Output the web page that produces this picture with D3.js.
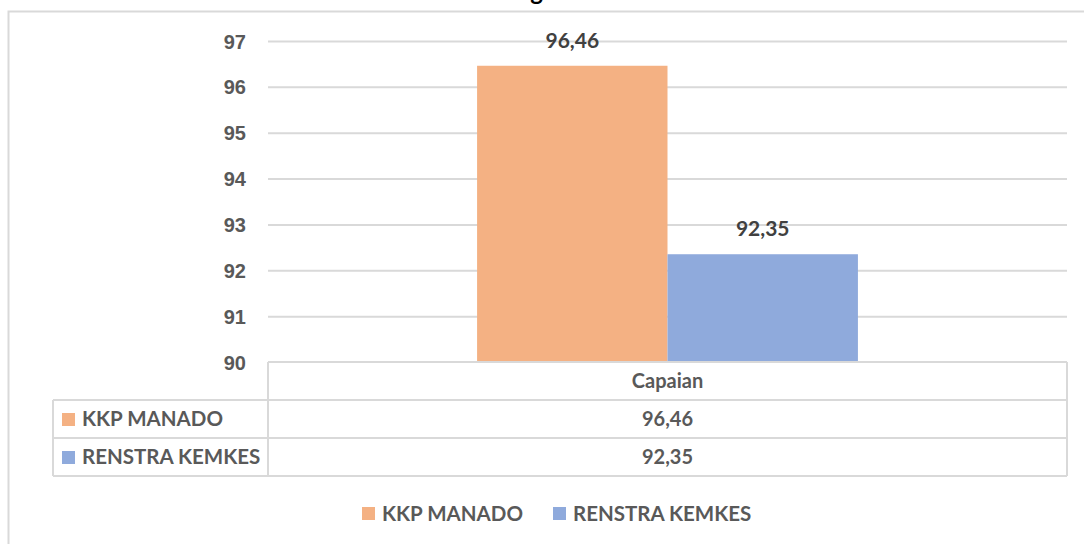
<!doctype html>
<meta charset="utf-8">
<style>
  body { margin: 0; background: #fff; }
  svg { font-family: Lato, "Open Sans", sans-serif; }
  .tick text { fill: #595959; font-weight: bold; font-size: 20px; }
  .lbl { fill: #404040; font-weight: bold; font-size: 21px; text-anchor: middle; }
  .cell { fill: #595959; font-weight: bold; font-size: 20px; text-anchor: middle; }
  .name { fill: #595959; font-weight: bold; font-size: 20.5px; }
</style>
<svg id="chart" width="1084" height="544"></svg>
<script src="https://d3js.org/d3.v7.min.js"></script>
<script>
  const categories = ["Capaian"];
  const seriesNames = ["KKP MANADO", "RENSTRA KEMKES"];
  const kkpValues = [96.46];
  const renstraValues = [92.35];
  const yTicks = [90, 91, 92, 93, 94, 95, 96, 97];
  const colours = ["#F4B183", "#8FAADC"];

  const series = [kkpValues, renstraValues];
  const fmt = v => String(v).replace(".", ",");

  let svg = d3.select("#chart");
  let plotLeft = 268, plotRight = 1067, plotTop = 41, plotBottom = 362;
  let rowH = 38, tableLeft = 53;

  // outer frame
  svg.append("rect").attr("x", 8.5).attr("y", 11.5).attr("width", 1090).attr("height", 560)
    .attr("fill", "none").attr("stroke", "#d9d9d9").attr("stroke-width", 2);

  // title (mostly off the top edge, as in the source)
  svg.append("text").attr("x", 539).attr("y", 0).attr("text-anchor", "middle")
    .attr("font-size", 24).attr("font-weight", "bold").attr("fill", "#000").text("Diagram");

  let y = d3.scaleLinear().domain([90, 97]).range([plotBottom, plotTop]);
  let x0 = d3.scaleBand().domain(categories).range([plotLeft, plotRight]).paddingInner(0).paddingOuter(0.549);
  let x1 = d3.scaleBand().domain(d3.range(series.length)).range([0, x0.bandwidth()]);

  // gridlines
  svg.append("g").selectAll("line").data(yTicks.filter(t => t > 90)).enter().append("line")
    .attr("x1", plotLeft).attr("x2", plotRight)
    .attr("y1", d => y(d) + 0.5).attr("y2", d => y(d) + 0.5)
    .attr("stroke", "#d9d9d9").attr("stroke-width", 2);

  // y axis labels
  let yAxis = svg.append("g").attr("transform", "translate(" + 246 + ",0)")
    .call(d3.axisLeft(y).tickValues(yTicks).tickSize(0).tickPadding(0).tickFormat(d3.format("d")));
  yAxis.select(".domain").remove();
  yAxis.selectAll(".tick text").attr("dy", "0.35em");

  // bars
  series.forEach((vals, s) => {
    let g = svg.append("g");
    g.selectAll("rect").data(vals).enter().append("rect")
      .attr("x", (d, i) => x0(categories[i]) + x1(s))
      .attr("width", x1.bandwidth())
      .attr("y", d => y(d))
      .attr("height", d => plotBottom - y(d))
      .attr("fill", colours[s]);
    g.selectAll("text").data(vals).enter().append("text")
      .attr("class", "lbl")
      .attr("x", (d, i) => x0(categories[i]) + x1(s) + x1.bandwidth() / 2)
      .attr("y", d => y(d) - 18)
      .text(fmt);
  });

  // data table
  let tg = svg.append("g").attr("fill", "none").attr("stroke", "#d9d9d9").attr("stroke-width", 2);
  let tableBottom = plotBottom + rowH * 3;
  tg.append("line").attr("x1", plotLeft).attr("x2", plotRight).attr("y1", plotBottom).attr("y2", plotBottom);
  for (let r = 1; r <= 3; r++) {
    tg.append("line").attr("x1", tableLeft).attr("x2", plotRight)
      .attr("y1", plotBottom + r * rowH).attr("y2", plotBottom + r * rowH);
  }
  tg.append("line").attr("x1", tableLeft).attr("x2", tableLeft).attr("y1", plotBottom + rowH).attr("y2", tableBottom);
  tg.append("line").attr("x1", plotLeft).attr("x2", plotLeft).attr("y1", plotBottom).attr("y2", tableBottom);
  tg.append("line").attr("x1", plotRight).attr("x2", plotRight).attr("y1", plotBottom).attr("y2", tableBottom);

  svg.selectAll(".cat").data(categories).enter().append("text")
    .attr("class", "cell").attr("x", d => x0(d) + x0.bandwidth() / 2)
    .attr("y", plotBottom + rowH / 2).attr("dy", "0.35em").text(d => d);

  series.forEach((vals, s) => {
    let ry = plotBottom + rowH * (s + 1) + rowH / 2;
    svg.append("rect").attr("x", 62).attr("y", ry - 6).attr("width", 13).attr("height", 13).attr("fill", colours[s]);
    svg.append("text").attr("class", "name").attr("x", 82).attr("y", ry).attr("dy", "0.35em").text(seriesNames[s]);
    svg.selectAll(".v" + s).data(vals).enter().append("text")
      .attr("class", "cell").attr("x", (d, i) => x0(categories[i]) + x0.bandwidth() / 2)
      .attr("y", ry).attr("dy", "0.35em").text(fmt);
  });

  // legend
  let legX = [362, 553];
  series.forEach((vals, s) => {
    svg.append("rect").attr("x", legX[s]).attr("y", 507).attr("width", 13).attr("height", 13).attr("fill", colours[s]);
    svg.append("text").attr("class", "name").attr("x", legX[s] + 20).attr("y", 514).attr("dy", "0.35em").text(seriesNames[s]);
  });
</script>
